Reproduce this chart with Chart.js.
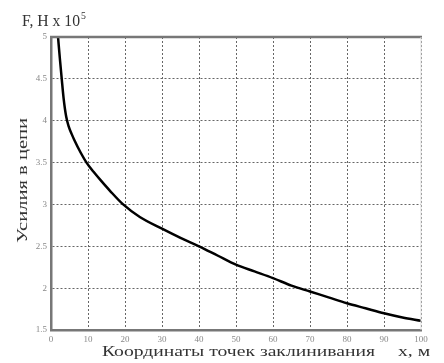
<!DOCTYPE html>
<html>
<head>
<meta charset="utf-8">
<script src="https://cdn.jsdelivr.net/npm/chart.js@4"></script>
<style>
  html, body { margin: 0; padding: 0; background: #fff; }
  #wrap { width: 444px; height: 363px; position: relative; }
</style>
</head>
<body>
<div id="wrap"><canvas id="chart" width="444" height="363"></canvas></div>
<script>
// positions along the chain (x, m) and force values (F, H x 10^5)
const xPos = [1.9, 2.4, 2.9, 3.4, 4.1, 4.8, 5.6, 6.3, 8, 9.6, 11.5, 13.4, 16, 19.5, 24, 30, 35, 40, 45, 50, 55, 60, 65, 70, 75, 80, 85, 90, 95, 100];
const force = [5.0, 4.74, 4.5, 4.27, 4.05, 3.93, 3.84, 3.77, 3.62, 3.5, 3.39, 3.29, 3.16, 3.0, 2.85, 2.71, 2.6, 2.5, 2.39, 2.28, 2.2, 2.12, 2.03, 1.96, 1.89, 1.82, 1.76, 1.7, 1.65, 1.61];

const xTicks = [0, 10, 20, 30, 40, 50, 60, 70, 80, 90, 100];
const yTicks = [1.5, 2, 2.5, 3, 3.5, 4, 4.5, 5];

const topTitle = "F, H x 10";
const topTitleExp = "5";
const yTitle = "Усилия в цепи";
const xTitle = "Координаты точек заклинивания";
const xUnit = "x, м";

const serif = "'Liberation Serif', 'DejaVu Serif', serif";

// the picture's lettering is stretched sideways
function wideText(ctx, text, x, y, sx) {
  ctx.save();
  ctx.translate(x, y);
  ctx.scale(sx, 1);
  ctx.fillText(text, 0, 0);
  ctx.restore();
}

// titles and the top/right frame, drawn after the chart
const extras = {
  id: "extras",
  afterDraw(chart) {
    const { ctx, chartArea } = chart;
    ctx.save();
    ctx.strokeStyle = "#777";
    ctx.lineWidth = 2.5;
    ctx.beginPath();
    ctx.moveTo(chartArea.left - 1, chartArea.top);
    ctx.lineTo(chartArea.right + 1, chartArea.top);
    ctx.stroke();
    ctx.strokeStyle = "#ddd";
    ctx.lineWidth = 1;
    ctx.beginPath();
    ctx.moveTo(chartArea.right, chartArea.top);
    ctx.lineTo(chartArea.right, chartArea.bottom);
    ctx.stroke();

    ctx.fillStyle = "#333";
    ctx.textBaseline = "alphabetic";
    ctx.textAlign = "left";

    ctx.font = "16px " + serif;
    let w = ctx.measureText(topTitle).width;
    let sx = 58 / w;
    wideText(ctx, topTitle, 22, 26, sx);
    ctx.font = "10px " + serif;
    wideText(ctx, topTitleExp, 22 + 58 + 1, 19, sx);

    ctx.font = "14px " + serif;
    w = ctx.measureText(xTitle).width;
    sx = 273 / w;
    wideText(ctx, xTitle, 102, 356, sx);
    wideText(ctx, xUnit, 398, 356, sx);

    w = ctx.measureText(yTitle).width;
    const syw = 125 / w;
    ctx.save();
    ctx.translate(27, 243);
    ctx.rotate(-Math.PI / 2);
    ctx.scale(syw, 1);
    ctx.fillText(yTitle, 0, 0);
    ctx.restore();

    ctx.restore();
  }
};

new Chart(document.getElementById("chart"), {
  type: "line",
  data: {
    datasets: [{
      data: xPos.map((x, i) => ({ x: x, y: force[i] })),
      borderColor: "#000",
      borderWidth: 2.5,
      pointRadius: 0,
      fill: false,
      cubicInterpolationMode: "monotone"
    }]
  },
  options: {
    responsive: false,
    animation: false,
    events: [],
    layout: { padding: { left: 0, right: 23, top: 37, bottom: 0 } },
    plugins: {
      legend: { display: false },
      tooltip: { enabled: false }
    },
    scales: {
      x: {
        type: "linear",
        min: 0,
        max: 100,
        afterBuildTicks: (axis) => { axis.ticks = xTicks.map(v => ({ value: v })); },
        afterFit: (axis) => { axis.height = 33; },
        border: { color: "#777", width: 2.5, dash: [2, 2] },
        grid: { color: "#666", lineWidth: 1, drawTicks: false },
        ticks: { color: "#888", padding: 4, font: { size: 9, family: serif }, callback: (v) => String(v) }
      },
      y: {
        min: 1.5,
        max: 5,
        afterBuildTicks: (axis) => { axis.ticks = yTicks.map(v => ({ value: v })); },
        afterFit: (axis) => { axis.width = 51; },
        border: { color: "#777", width: 2.5, dash: [2, 2] },
        grid: { color: "#666", lineWidth: 1, drawTicks: false },
        ticks: { color: "#888", padding: 4, font: { size: 9, family: serif }, callback: (v) => String(v) }
      }
    }
  },
  plugins: [extras]
});
</script>
</body>
</html>
